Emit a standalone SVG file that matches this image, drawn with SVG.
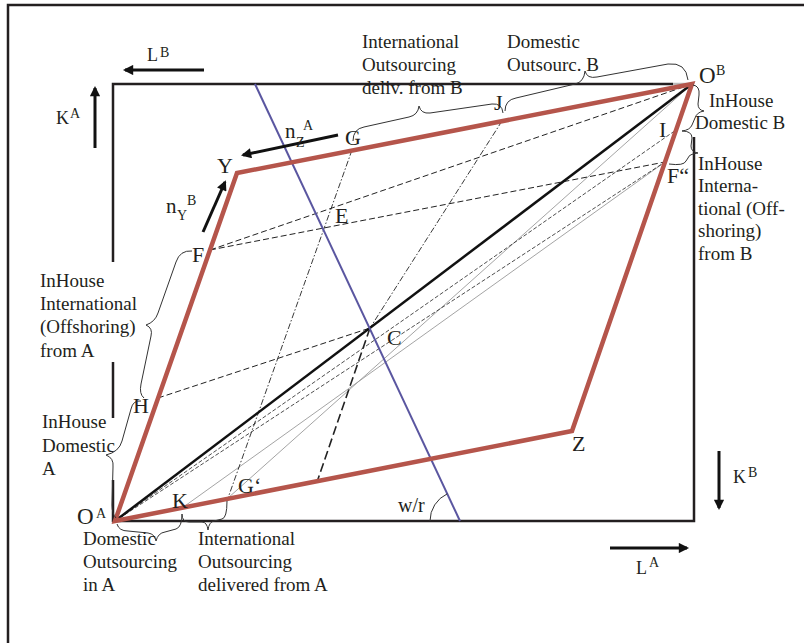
<svg xmlns="http://www.w3.org/2000/svg" width="804" height="643" viewBox="0 0 804 643">
<style>
text{font-family:"Liberation Serif","Times New Roman",serif;fill:#231f20}
.t{font-size:19px}
.p{font-size:22px}
.s{font-size:14px}
.ax{stroke:#231f20;stroke-width:2.5;fill:none}
.arr{stroke:#111;stroke-width:3;fill:none;marker-end:url(#ah)}
.red{stroke:#b5554b;stroke-width:4.5;fill:none;stroke-linejoin:miter}
.blue{stroke:#5a56a0;stroke-width:2;fill:none}
.diag{stroke:#111;stroke-width:2.5}
.d{stroke:#222;stroke-width:1;stroke-dasharray:6,3;fill:none}
.dd{stroke:#222;stroke-width:1.6;stroke-dasharray:9,4;fill:none}
.df{stroke:#222;stroke-width:0.8;stroke-dasharray:4,2;fill:none}
.dc{stroke:#222;stroke-width:0.9;stroke-dasharray:6,2,1.5,2;fill:none}
.g{stroke:#9a9a9a;stroke-width:0.9;fill:none}
.br{stroke:#333;stroke-width:1;fill:none}
</style>
<defs>
<marker id="ah" viewBox="0 0 10 10" refX="8" refY="5" markerWidth="4" markerHeight="3.4" orient="auto"><path d="M0,0 L10,5 L0,10 z" fill="#111"/></marker>
</defs>
<g id="frame">
<path class="ax" d="M8,643 L8,5 L804,5"/>
</g>
<g id="box">
<path class="ax" d="M113,262 L113,84 L673,84"/>
<path d="M673,84 L690,84" stroke="#bbb" stroke-width="2.5"/>
<path class="ax" d="M113,362 L113,418"/>
<path class="ax" d="M113,480 L113,521 L694,521 L694,137"/>
</g>
<g id="connectors">
<path class="g" d="M182,508 L665,162"/>
<path class="g" d="M228,498 L692,84"/>
<path class="df" d="M115,521 L676,130"/>
<path class="df" d="M115,521 L665,162"/>
<path class="d" d="M210,250 L692,84"/>
<path class="d" d="M210,250 L665,162"/>
<path class="d" d="M158,398 L370,328"/>
<path class="dc" d="M352,150 L228,498"/>
<path class="dc" d="M502,121 L370,328"/>
<path class="dd" d="M370,328 L317,482"/>
<path class="diag" d="M115,521 L692,84"/>
<path class="blue" d="M255,84 L460,521"/>
<path class="red" d="M115,521 L237,173 L692,84 L572,431 Z"/>
<path class="br" d="M430,521 A30,30 0 0 1 447.3,493.8"/>
</g>
<g id="braces">
<path class="br" d="M353,141 Q353,129 364,127 L409,117 Q418,115 419,106 Q421,114 430,113 L492,104 Q502,103 503,113"/>
<path class="br" d="M505,111 Q505,100 516,98 L575,84 Q584,82 585,71 Q587,79 597,77 L668,64 Q686,62 688,80"/>
<path class="br" d="M693,85 Q700,86 699,95 L698,104 Q698,110 704,111 Q697,112 695,118 L692,125 Q690,130 682,131"/>
<path class="br" d="M682,131 Q692,131 692,138 L691,146 Q691,152 698,153 Q689,154 688,158 L686,161 Q684,166 669,164"/>
<path class="br" d="M192,251 Q180,250 176,262 L158,313 Q155,322 146,325 Q153,328 151,336 L141,384 Q139,394 144,398"/>
<path class="br" d="M141,401 Q133,400 131,409 L122,441 Q119,452 106,455 Q114,458 113,467 L112,505 Q112,514 116,518"/>
<path class="br" d="M117,524 Q119,531 128,531 L148,533 Q155,534 156,541 Q158,533 165,532 L176,529 Q182,527 182,514"/>
<path class="br" d="M182,514 Q182,522 189,522 L202,522 Q207,522 208,530 Q209,522 214,521 L222,519 Q227,518 227,501"/>
</g>
<g id="axis-labels">
<path class="arr" d="M204,70 L125,70"/>
<text x="147" y="61" style="font-size:18px">L</text><text x="160" y="57" class="s">B</text>
<path class="arr" d="M95,148 L95,88"/>
<text x="56" y="124" style="font-size:18px">K</text><text x="70" y="118" class="s">A</text>
<path class="arr" d="M719,451 L719,508"/>
<text x="733" y="483" style="font-size:18px">K</text><text x="748" y="477" class="s">B</text>
<path class="arr" d="M610,548 L687,548"/>
<text x="636" y="574" style="font-size:18px">L</text><text x="649" y="567" class="s">A</text>
</g>
<g id="nZA">
<path class="arr" d="M338,135 L243,155"/>
<text x="285" y="138" style="font-size:21px">n</text><text x="296" y="147" class="s">Z</text><text x="303" y="130" class="s">A</text>
</g>
<g id="nYB">
<path class="arr" d="M203,232 L225,182"/>
<text x="166" y="213" style="font-size:21px">n</text><text x="177" y="220" class="s">Y</text><text x="187" y="205" class="s">B</text>
</g>
<g id="OA"><text x="77" y="524" style="font-size:23px">O</text><text x="96" y="518" class="s">A</text></g>
<g id="OB"><text x="699" y="83" style="font-size:23px">O</text><text x="716" y="75" class="s">B</text></g>
<g id="Y"><text class="p" x="217" y="173">Y</text></g>
<g id="Z"><text class="p" x="572" y="451">Z</text></g>
<g id="G"><text class="p" x="345" y="145">G</text></g>
<g id="J"><text class="p" x="494" y="110">J</text></g>
<g id="I"><text class="p" x="659" y="137">I</text></g>
<g id="F2"><text class="p" x="667" y="183">F“</text></g>
<g id="E"><text class="p" x="335" y="223">E</text></g>
<g id="F"><text class="p" x="192" y="262">F</text></g>
<g id="C"><text class="p" x="387" y="345">C</text></g>
<g id="H"><text class="p" x="133" y="413">H</text></g>
<g id="K"><text class="p" x="172" y="508">K</text></g>
<g id="G1"><text class="p" x="238" y="493">G‘</text></g>
<g id="wr"><text x="398" y="512" style="font-size:20px">w/r</text></g>
<g id="lbl-intl-B"><text class="t" x="362" y="48">International</text><text class="t" x="362" y="71">Outsourcing</text><text class="t" x="362" y="94">deliv. from B</text></g>
<g id="lbl-dom-B"><text class="t" x="507" y="48">Domestic</text><text class="t" x="507" y="71">Outsourc. B</text></g>
<g id="lbl-inh-dom-B"><text class="t" x="709" y="107">InHouse</text><text class="t" x="695" y="129">Domestic B</text></g>
<g id="lbl-inh-int-B"><text class="t" x="698" y="170">InHouse</text><text class="t" x="698" y="192">Interna-</text><text class="t" x="698" y="215">tional (Off-</text><text class="t" x="698" y="237">shoring)</text><text class="t" x="698" y="260">from B</text></g>
<g id="lbl-inh-int-A"><text class="t" x="40" y="287">InHouse</text><text class="t" x="40" y="310">International</text><text class="t" x="40" y="333">(Offshoring)</text><text class="t" x="40" y="357">from A</text></g>
<g id="lbl-inh-dom-A"><text class="t" x="42" y="428">InHouse</text><text class="t" x="42" y="452">Domestic</text><text class="t" x="42" y="475">A</text></g>
<g id="lbl-dom-A"><text class="t" x="83" y="545">Domestic</text><text class="t" x="83" y="568">Outsourcing</text><text class="t" x="83" y="591">in A</text></g>
<g id="lbl-intl-A"><text class="t" x="198" y="545">International</text><text class="t" x="198" y="568">Outsourcing</text><text class="t" x="198" y="591">delivered from A</text></g>
</svg>
